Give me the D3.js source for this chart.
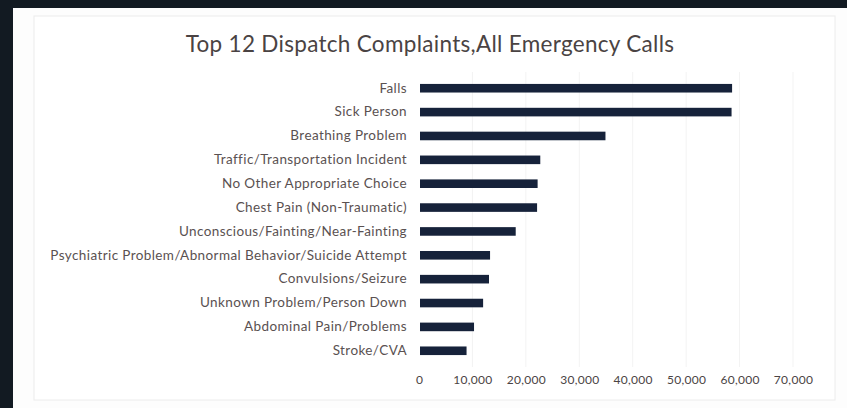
<!DOCTYPE html>
<html>
<head>
<meta charset="utf-8">
<script src="https://cdn.jsdelivr.net/npm/d3@7"></script>
<style>
  body { margin: 0; background: #fff; }
  #graf { width: 847px; height: 408px; }
  .eje text { font-family: Lato, 'Open Sans', sans-serif; }
</style>
</head>
<body>
<div id="graf"></div>
<script>
// datos
categorias = [
  'Falls',
  'Sick Person',
  'Breathing Problem',
  'Traffic/Transportation Incident',
  'No Other Appropriate Choice',
  'Chest Pain (Non-Traumatic)',
  'Unconscious/Fainting/Near-Fainting',
  'Psychiatric Problem/Abnormal Behavior/Suicide Attempt',
  'Convulsions/Seizure',
  'Unknown Problem/Person Down',
  'Abdominal Pain/Problems',
  'Stroke/CVA'
]
llamadas = [58600, 58500, 34900, 22700, 22200, 22100, 18100, 13300, 13100, 12000, 10300, 8900]
ticksX = [0, 10000, 20000, 30000, 40000, 50000, 60000, 70000]
titulo = 'Top 12 Dispatch Complaints,All Emergency Calls'

ancho_total = 847
alto_total = 408

svg = d3.select('#graf').append('svg')
        .attr('width', ancho_total)
        .attr('height', alto_total)

// marco oscuro de la foto
svg.append('rect').attr('x', 0).attr('y', 0).attr('width', ancho_total).attr('height', alto_total).attr('fill', '#121a22')
svg.append('rect').attr('x', 13).attr('y', 8).attr('width', ancho_total - 13).attr('height', alto_total - 8).attr('fill', '#fdfdfd')

// panel del grafico
svg.append('rect')
    .attr('x', 34).attr('y', 16)
    .attr('width', 801).attr('height', 384)
    .attr('fill', '#ffffff')
    .attr('stroke', '#ececec')

// escalas
x = d3.scaleLinear()
      .domain([0, 70000])
      .range([419, 793])

y = d3.scaleBand()
      .domain(categorias)
      .range([72, 367])
      .paddingInner(0.64)
      .paddingOuter(0.5)

// lineas de grilla muy tenues
svg.append('g').selectAll('line')
    .data(ticksX.slice(1))
    .enter().append('line')
      .attr('x1', d => x(d)).attr('x2', d => x(d))
      .attr('y1', 72).attr('y2', 367)
      .attr('stroke', '#f3f3f3')

// titulo
svg.append('text')
    .attr('x', 430)
    .attr('y', 52)
    .attr('text-anchor', 'middle')
    .attr('font-family', "Lato, 'Open Sans', sans-serif")
    .attr('font-size', '22.5px')
    .attr('letter-spacing', '0.3px')
    .attr('fill', '#4a4343')
    .text(titulo)

// barras
svg.selectAll('rect.bara')
    .data(categorias)
    .enter().append('rect')
      .attr('class', 'bara')
      .attr('x', x(0) + 1)
      .attr('y', d => y(d))
      .attr('width', (d, i) => x(llamadas[i]) - x(0) - 1)
      .attr('height', y.bandwidth())
      .attr('fill', '#16223a')

// eje y (categorias)
yAxisCall = d3.axisLeft(y).tickSize(0).tickPadding(12)
yAxisGroup = svg.append('g')
    .attr('class', 'eje')
    .attr('transform', `translate(${ x(0) }, 0)`)
    .call(yAxisCall)
yAxisGroup.select('.domain').remove()
yAxisGroup.selectAll('text')
    .attr('font-size', '13.5px')
    .attr('letter-spacing', '0.4px')
    .attr('fill', '#5a5151')

// eje x
xAxisCall = d3.axisBottom(x)
              .tickValues(ticksX)
              .tickSize(0)
              .tickFormat(d3.format(','))
xAxisGroup = svg.append('g')
    .attr('class', 'eje')
    .attr('transform', 'translate(0, 372)')
    .call(xAxisCall)
xAxisGroup.select('.domain').remove()
xAxisGroup.selectAll('text')
    .attr('font-size', '12px')
    .attr('letter-spacing', '0.3px')
    .attr('fill', '#4a4444')
</script>
</body>
</html>
